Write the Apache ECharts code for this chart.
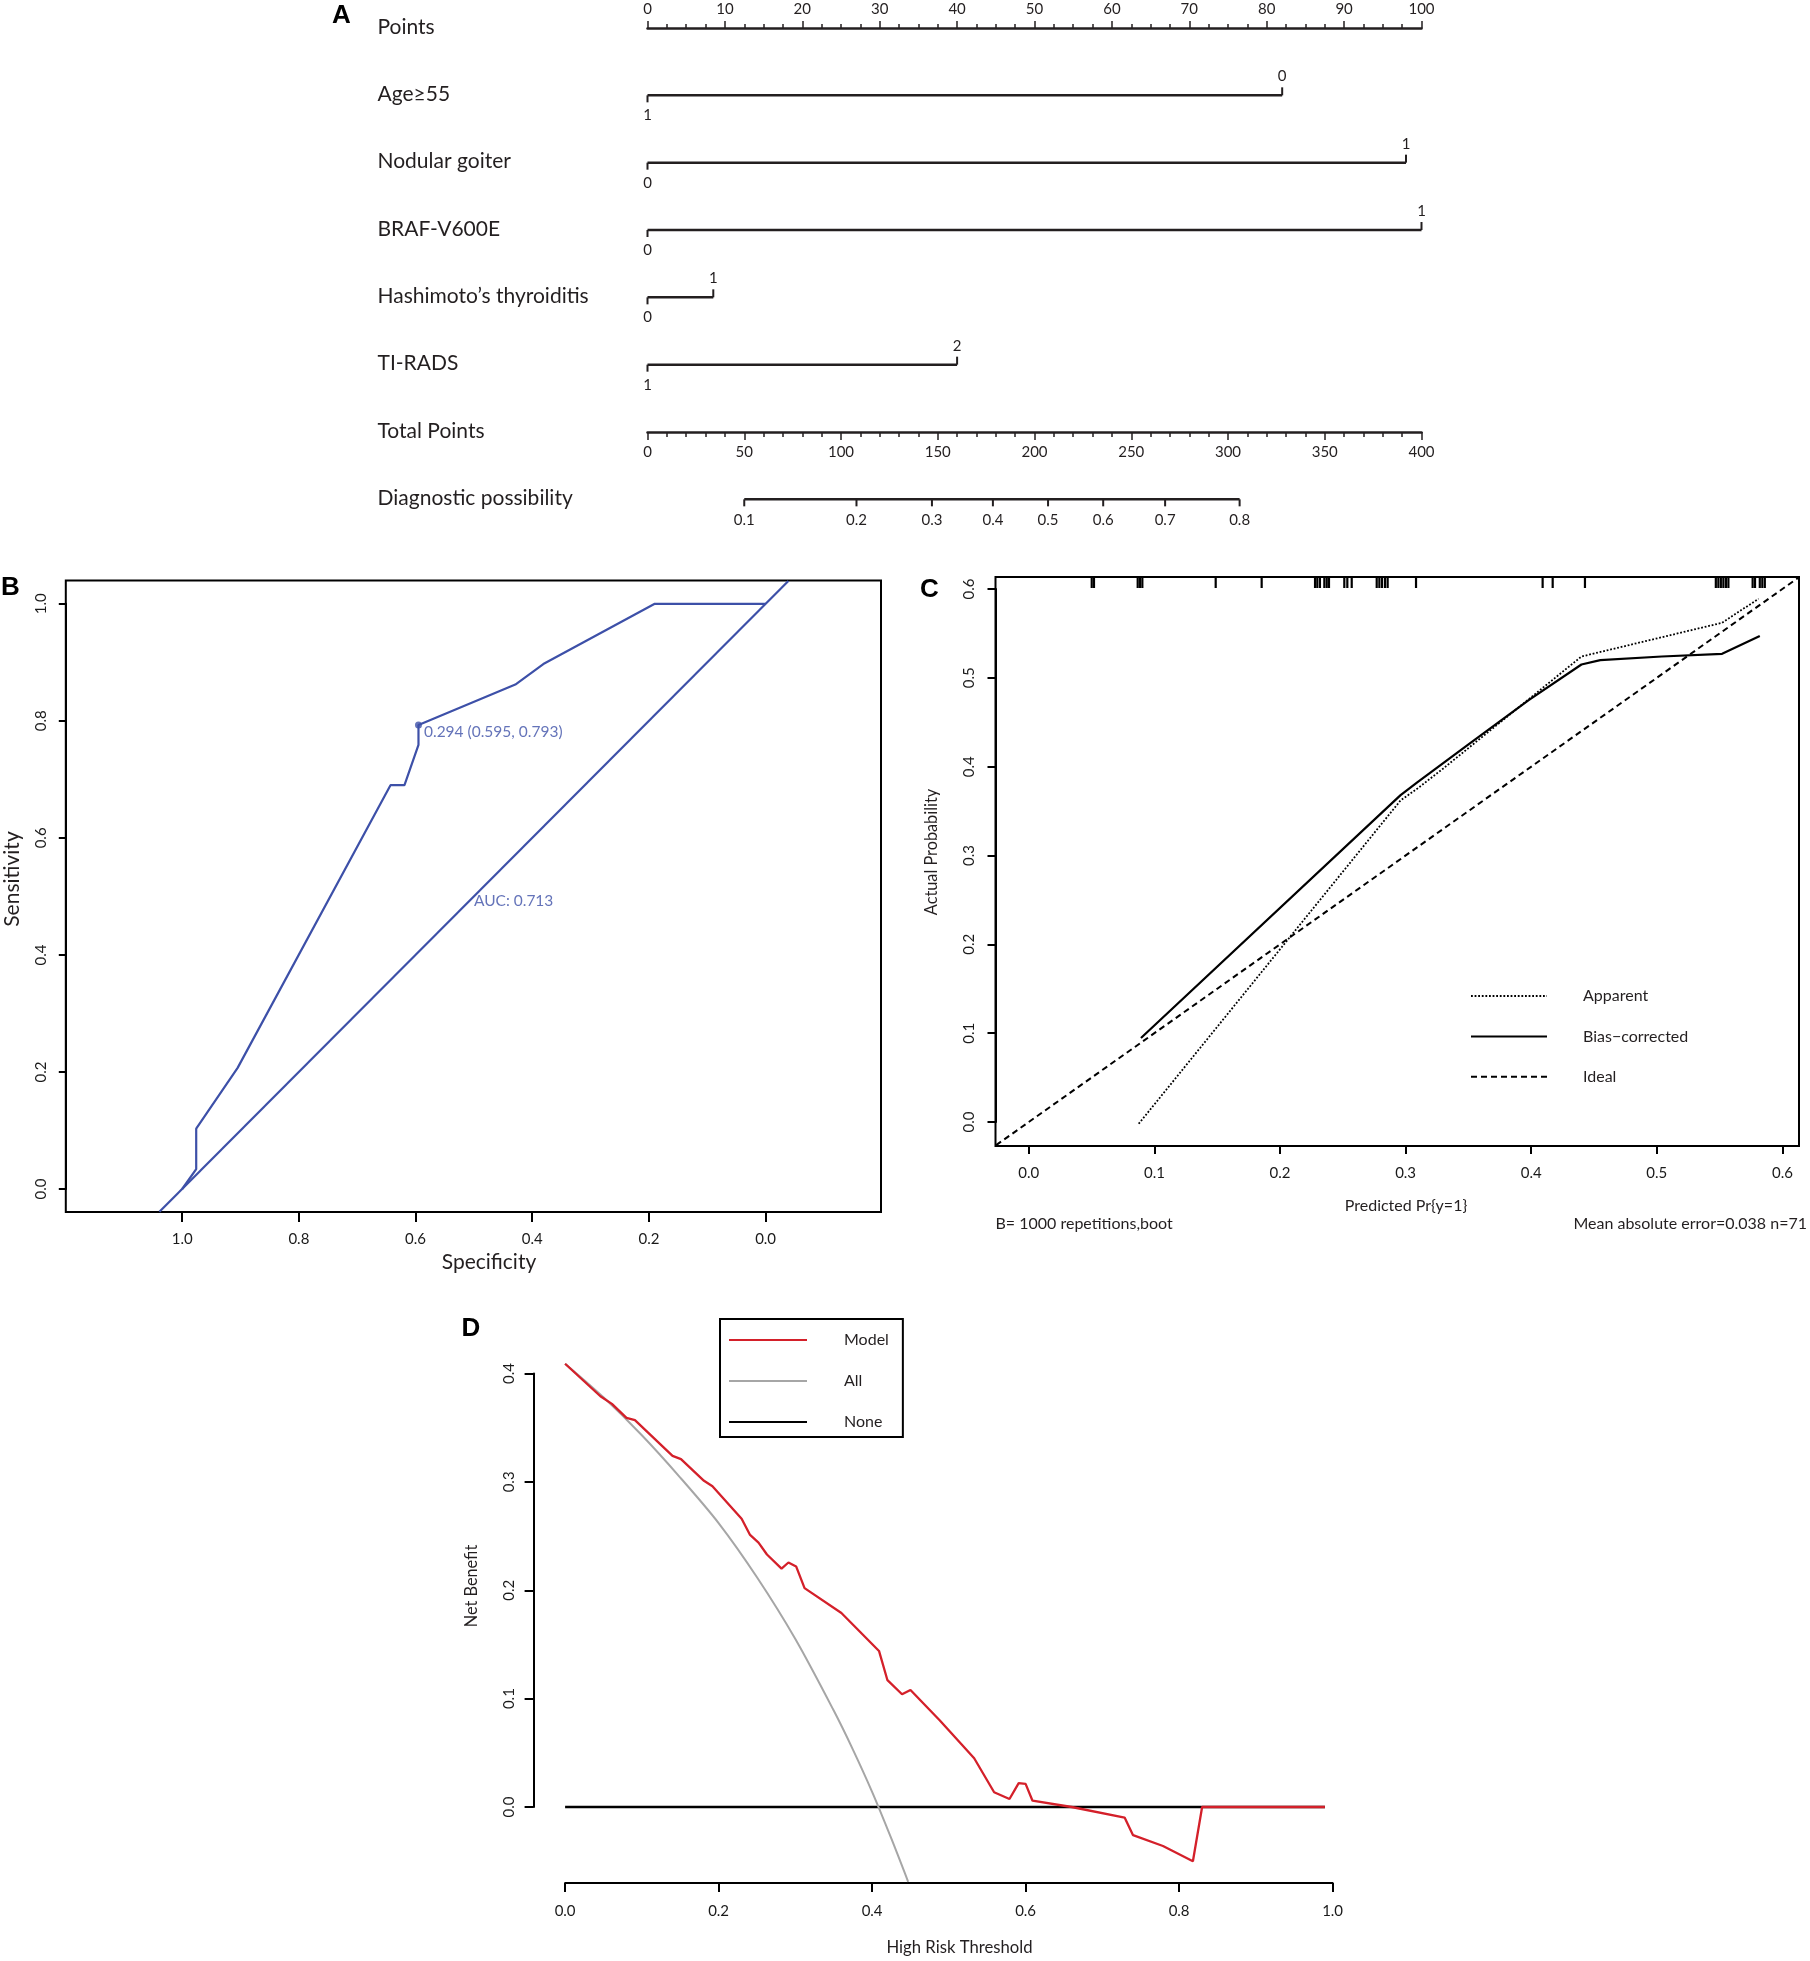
<!DOCTYPE html>
<html>
<head>
<meta charset="utf-8">
<script src="https://cdn.jsdelivr.net/npm/echarts@6/dist/echarts.min.js"></script>
<style>
html,body{margin:0;padding:0;background:#fff;}
#c{width:1810px;height:1961px;}
</style>
</head>
<body>
<div id="c"></div>
<script>
// ================= DATA =================
// Panel A – nomogram
const nomoRowNames = ['Points', 'Age\u226555', 'Nodular goiter', 'BRAF-V600E', 'Hashimoto\u2019s thyroiditis', 'TI-RADS', 'Total Points', 'Diagnostic possibility'];
const predictorMaxPoints = [82, 98, 100, 8.5, 40];
const predictorLowLabels = ['1', '0', '0', '0', '1'];
const predictorHighLabels = ['0', '1', '1', '1', '2'];
const diagTotalPoints = [50, 108, 147, 178.5, 207, 235.5, 267.5, 306];
const diagLabels = ['0.1', '0.2', '0.3', '0.4', '0.5', '0.6', '0.7', '0.8'];

// Panel B – ROC
const rocSpecificity = [1.0, 0.976, 0.976, 0.905, 0.643, 0.619, 0.595, 0.595, 0.429, 0.381, 0.190, 0.0];
const rocSensitivity = [0.0, 0.034, 0.103, 0.207, 0.690, 0.690, 0.759, 0.793, 0.862, 0.897, 1.0, 1.0];
const chanceSpecificity = [1.039, -0.039];
const chanceSensitivity = [-0.039, 1.039];
const bestPoint = [0.595, 0.793];
const bestPointLabel = '0.294 (0.595, 0.793)';
const aucPoint = [0.5, 0.492];
const aucLabel = 'AUC: 0.713';

// Panel C – calibration
const apparentX = [0.0875, 0.296, 0.31, 0.33, 0.44, 0.552, 0.581];
const apparentY = [-0.002, 0.362, 0.376, 0.398, 0.524, 0.562, 0.589];
const biasX = [0.0893, 0.296, 0.309, 0.349, 0.398, 0.44, 0.455, 0.504, 0.552, 0.582];
const biasY = [0.0946, 0.368, 0.382, 0.424, 0.475, 0.515, 0.52, 0.524, 0.527, 0.547];
const idealX = [-0.026, 0.613];
const idealY = [-0.026, 0.613];
const rugX = [0.0501, 0.0519, 0.0867, 0.0885, 0.0904, 0.1488, 0.1854,
  0.2279, 0.2297, 0.2318, 0.2353, 0.2372, 0.239, 0.2512, 0.2536, 0.2571,
  0.277, 0.2791, 0.2812, 0.2836, 0.2857, 0.3083, 0.4091, 0.4171, 0.4428,
  0.547, 0.549, 0.551, 0.553, 0.555, 0.557, 0.5763, 0.5782, 0.582, 0.584, 0.586];
const calibFootLeft = 'B= 1000 repetitions,boot';
const calibFootRight = 'Mean absolute error=0.038 n=71';

// Panel D – decision curve
const modelX = [0, 0.046, 0.061, 0.08, 0.091, 0.14, 0.151, 0.181, 0.192, 0.23, 0.241, 0.252, 0.263, 0.282, 0.291, 0.301, 0.312, 0.36, 0.409, 0.42, 0.439, 0.45, 0.488, 0.533, 0.559, 0.579, 0.591, 0.60, 0.609, 0.66, 0.729, 0.74, 0.779, 0.818, 0.83, 0.99];
const modelY = [0.409, 0.379, 0.372, 0.359, 0.357, 0.324, 0.321, 0.301, 0.296, 0.266, 0.251, 0.244, 0.233, 0.22, 0.2256, 0.222, 0.202, 0.179, 0.144, 0.117, 0.104, 0.108, 0.080, 0.045, 0.0136, 0.0074, 0.022, 0.0213, 0.0058, 0, -0.0097, -0.026, -0.036, -0.050, 0, 0];
const allX = [0, 0.05, 0.1, 0.15, 0.2, 0.25, 0.3, 0.35, 0.375, 0.4, 0.425, 0.447];
const allY = [0.409, 0.378, 0.343, 0.304, 0.262, 0.212, 0.155, 0.089, 0.053, 0.014, -0.029, -0.069];
const noneX = [0, 0.99];
const noneY = [0, 0];

// ================= STYLE / LAYOUT =================
const FONT = 'Lato, "Open Sans", "DejaVu Sans", sans-serif';
const BOLD = '"Liberation Sans", Arial, sans-serif';
const INK = '#231f20';
const BLUE = '#3d50a8';
const RED = '#d4202a';
const GREY = '#a6a6a6';
const zip = (a, b) => a.map((v, i) => [v, b[i]]);
const f1 = v => v.toFixed(1);

function lineEl(x1, y1, x2, y2, w) {
  return {type: 'line', shape: {x1, y1, x2, y2}, style: {stroke: INK, lineWidth: w}};
}
function textEl(text, x, y, size, align) {
  return {type: 'text', style: {text, x, y, fontSize: size, fontFamily: FONT, fill: INK, align: align || 'center', verticalAlign: 'middle'}};
}

function renderRowNames(params, api) {
  const p = api.coord([0, api.value(1)]);
  return textEl(nomoRowNames[params.dataIndex], p[0] - 270, p[1] - 1, 21, 'left');
}
function renderPredictor(params, api) {
  const i = params.dataIndex;
  const p0 = api.coord([api.value(0), api.value(2)]);
  const p1 = api.coord([api.value(1), api.value(2)]);
  return {type: 'group', children: [
    lineEl(p0[0], p0[1], p1[0], p1[1], 2.5),
    lineEl(p0[0], p0[1], p0[0], p0[1] + 7, 2),
    lineEl(p1[0], p1[1], p1[0], p1[1] - 8, 2),
    textEl(predictorLowLabels[i], p0[0], p0[1] + 20, 15),
    textEl(predictorHighLabels[i], p1[0], p1[1] - 19, 15)
  ]};
}
function renderDiag(params, api) {
  const i = params.dataIndex;
  const row = api.value(1);
  const p = api.coord([api.value(0), row]);
  const children = [
    lineEl(p[0], p[1], p[0], p[1] + 7, 2),
    textEl(diagLabels[i], p[0], p[1] + 21, 15)
  ];
  if (i === 0) {
    const pe = api.coord([diagTotalPoints[diagTotalPoints.length - 1], row]);
    children.push(lineEl(p[0], p[1], pe[0], pe[1], 2.5));
  }
  return {type: 'group', children};
}
function renderRug(params, api) {
  const p = api.coord([api.value(0), 0.6]);
  return {type: 'line', shape: {x1: p[0], y1: p[1] - 1, x2: p[0], y2: p[1] - 12}, style: {stroke: '#000', lineWidth: 2.2}};
}

const diagRow = nomoRowNames.length - 1;

const noSplit = {splitLine: {show: false}, minorSplitLine: {show: false}};
function dataAxisX(grid, min, max, interval, offset, tickLen, margin, extra) {
  return Object.assign({
    gridIndex: grid, type: 'value', min, max, interval, offset,
    axisLine: {show: true, onZero: false, lineStyle: {color: '#000', width: 2}},
    axisTick: {show: true, length: tickLen, lineStyle: {color: '#000', width: 2}},
    axisLabel: {margin, fontSize: 15, color: '#1a1a1a', fontFamily: FONT, formatter: f1, showMinLabel: true, showMaxLabel: true}
  }, noSplit, extra || {});
}
function dataAxisY(grid, min, max, interval, offset, tickLen, margin) {
  return Object.assign({
    gridIndex: grid, type: 'value', min, max, interval, offset,
    axisLine: {show: true, onZero: false, lineStyle: {color: '#000', width: 2}},
    axisTick: {show: true, length: tickLen, lineStyle: {color: '#000', width: 2}},
    axisLabel: {margin, rotate: 90, fontSize: 15, color: '#1a1a1a', fontFamily: FONT, formatter: f1, showMinLabel: true, showMaxLabel: true}
  }, noSplit);
}
// hidden axes spanning the full framed box of panels B and C
const boxAxis = (g, min, max, inverse) => Object.assign({gridIndex: g, type: 'value', show: false, min, max, inverse: !!inverse}, noSplit);

const legendHideSymbol = {color: 'rgba(0,0,0,0)', borderWidth: 0, opacity: 0};

const option = {
  animation: false,
  backgroundColor: '#fff',
  grid: [
    {left: 647.5, top: 28, width: 774, height: 404, outerBoundsMode: 'none'},            // A
    {left: 182.2, top: 603.8, width: 583.4, height: 585.2, outerBoundsMode: 'none'},     // B data
    {left: 1028.8, top: 589, width: 753.6, height: 533, outerBoundsMode: 'none'},        // C data
    {left: 565.1, top: 1373.5, width: 767.5, height: 433.5, outerBoundsMode: 'none'},    // D data
    {left: 65.8, top: 580.5, width: 815.2, height: 631.5, show: true, borderColor: '#000', borderWidth: 2, backgroundColor: 'transparent', outerBoundsMode: 'none'}, // B box
    {left: 995.5, top: 577, width: 803.5, height: 569, show: true, borderColor: '#000', borderWidth: 2, backgroundColor: 'transparent', outerBoundsMode: 'none'}   // C box
  ],
  xAxis: [
    Object.assign({
      gridIndex: 0, type: 'value', position: 'top', min: 0, max: 100, interval: 10,
      axisLine: {show: true, onZero: false, lineStyle: {color: INK, width: 2.5}},
      axisTick: {show: true, length: 7, lineStyle: {color: INK, width: 1.5}},
      minorTick: {show: true, splitNumber: 4, length: 4, lineStyle: {color: INK, width: 1.5}},
      axisLabel: {margin: 11, fontSize: 15, color: INK, fontFamily: FONT, showMinLabel: true, showMaxLabel: true}
    }, noSplit),
    Object.assign({
      gridIndex: 0, type: 'value', position: 'bottom', min: 0, max: 400, interval: 50,
      axisLine: {show: true, onZero: false, lineStyle: {color: INK, width: 2.5}},
      axisTick: {show: true, length: 8, lineStyle: {color: INK, width: 1.5}},
      minorTick: {show: true, splitNumber: 5, length: 5, lineStyle: {color: INK, width: 1.5}},
      axisLabel: {margin: 13, fontSize: 15, color: INK, fontFamily: FONT, showMinLabel: true, showMaxLabel: true}
    }, noSplit),
    dataAxisX(1, 0, 1, 0.2, 23, 10, 20, {inverse: true}),
    dataAxisX(2, 0, 0.6, 0.1, 24, 8, 19.5),
    dataAxisX(3, 0, 1, 0.2, 76, 9, 21),
    boxAxis(4, -0.1978, 1.1995, true),
    boxAxis(5, -0.0265, 0.6132)
  ],
  yAxis: [
    Object.assign({gridIndex: 0, type: 'value', show: false, min: 0, max: 6, inverse: true}, noSplit),
    dataAxisY(1, 0, 1, 0.2, 116.4, 7, 17),
    dataAxisY(2, 0, 0.6, 0.1, 33.3, 8, 19),
    dataAxisY(3, 0, 0.4, 0.1, 31.5, 9, 17),
    boxAxis(4, -0.0393, 1.0398),
    boxAxis(5, -0.027, 0.6135)
  ],
  legend: [
    {
      data: ['Apparent', 'Bias\u2212corrected', 'Ideal'],
      orient: 'vertical', left: 1470, top: 988, padding: 0,
      itemWidth: 76, itemHeight: 14, itemGap: 24.4, selectedMode: false,
      itemStyle: legendHideSymbol,
      textStyle: {fontSize: 16, fontFamily: FONT, color: INK, padding: [0, 0, 0, 31]}
    },
    {
      data: ['Model', 'All', 'None'],
      orient: 'vertical', left: 720, top: 1319, padding: [13, 14, 7, 8],
      borderColor: '#000', borderWidth: 2,
      itemWidth: 78, itemHeight: 14, itemGap: 25, selectedMode: false,
      itemStyle: legendHideSymbol,
      textStyle: {fontSize: 16, fontFamily: FONT, color: INK, padding: [0, 0, 0, 32]}
    }
  ],
  series: [
    // ---- A ----
    {type: 'custom', name: 'rowNames', xAxisIndex: 0, yAxisIndex: 0, renderItem: renderRowNames,
      data: nomoRowNames.map((n, i) => [0, i]), silent: true},
    {type: 'custom', name: 'predictors', xAxisIndex: 0, yAxisIndex: 0, renderItem: renderPredictor,
      data: predictorMaxPoints.map((v, i) => [0, v, i + 1]), silent: true},
    {type: 'custom', name: 'diagnostic', xAxisIndex: 1, yAxisIndex: 0, renderItem: renderDiag,
      data: diagTotalPoints.map(v => [v, diagRow]), silent: true},
    // ---- B ----
    {type: 'line', name: 'chance', xAxisIndex: 5, yAxisIndex: 4, data: zip(chanceSpecificity, chanceSensitivity),
      symbol: 'none', clip: false, lineStyle: {color: BLUE, width: 2.2}, silent: true},
    {type: 'line', name: 'ROC', xAxisIndex: 2, yAxisIndex: 1, data: zip(rocSpecificity, rocSensitivity),
      symbol: 'none', clip: false, lineStyle: {color: BLUE, width: 2.2}, silent: true},
    {type: 'scatter', name: 'best', xAxisIndex: 2, yAxisIndex: 1, data: [bestPoint], symbolSize: 7,
      itemStyle: {color: BLUE}, clip: false, silent: true,
      label: {show: true, position: 'right', distance: 2, offset: [0, 7], formatter: bestPointLabel,
        fontSize: 15.5, fontFamily: FONT, color: BLUE}},
    {type: 'scatter', name: 'auc', xAxisIndex: 2, yAxisIndex: 1, data: [aucPoint], symbolSize: 0,
      clip: false, silent: true,
      label: {show: true, position: 'right', distance: 0, formatter: aucLabel, fontSize: 15.5, fontFamily: FONT, color: BLUE}},
    // ---- C ----
    {type: 'line', name: 'Ideal', xAxisIndex: 6, yAxisIndex: 5, data: zip(idealX, idealY), symbol: 'none', clip: false,
      lineStyle: {color: '#000', width: 2, type: [6, 4]}, itemStyle: {color: '#000'}, silent: true},
    {type: 'line', name: 'Apparent', xAxisIndex: 3, yAxisIndex: 2, data: zip(apparentX, apparentY), symbol: 'none', clip: false,
      lineStyle: {color: '#000', width: 1.8, type: [1.8, 1.8]}, itemStyle: {color: '#000'}, silent: true},
    {type: 'line', name: 'Bias\u2212corrected', xAxisIndex: 3, yAxisIndex: 2, data: zip(biasX, biasY), symbol: 'none', clip: false,
      lineStyle: {color: '#000', width: 2.2}, itemStyle: {color: '#000'}, silent: true},
    {type: 'custom', name: 'rug', xAxisIndex: 3, yAxisIndex: 2, renderItem: renderRug,
      data: rugX.map(v => [v]), silent: true},
    // ---- D ----
    {type: 'line', name: 'None', xAxisIndex: 4, yAxisIndex: 3, data: zip(noneX, noneY), symbol: 'none', clip: false,
      lineStyle: {color: '#000', width: 2.5}, itemStyle: {color: '#000'}, silent: true},
    {type: 'line', name: 'All', xAxisIndex: 4, yAxisIndex: 3, data: zip(allX, allY), symbol: 'none', clip: false, smooth: 0.3,
      lineStyle: {color: GREY, width: 2}, itemStyle: {color: GREY}, silent: true},
    {type: 'line', name: 'Model', xAxisIndex: 4, yAxisIndex: 3, data: zip(modelX, modelY), symbol: 'none', clip: false,
      lineStyle: {color: RED, width: 2.3}, itemStyle: {color: RED}, silent: true}
  ],
  graphic: {elements: [
    {type: 'text', x: 341.5, y: 15.5, style: {text: 'A', fontSize: 26, fontWeight: 'bold', fontFamily: BOLD, fill: '#000', align: 'center', verticalAlign: 'middle'}},
    {type: 'text', x: 10.5, y: 588, style: {text: 'B', fontSize: 26, fontWeight: 'bold', fontFamily: BOLD, fill: '#000', align: 'center', verticalAlign: 'middle'}},
    {type: 'text', x: 929.5, y: 590, style: {text: 'C', fontSize: 26, fontWeight: 'bold', fontFamily: BOLD, fill: '#000', align: 'center', verticalAlign: 'middle'}},
    {type: 'text', x: 471, y: 1329, style: {text: 'D', fontSize: 26, fontWeight: 'bold', fontFamily: BOLD, fill: '#000', align: 'center', verticalAlign: 'middle'}},
    {type: 'text', x: 489, y: 1262, style: {text: 'Specificity', fontSize: 21, fontFamily: FONT, fill: INK, align: 'center', verticalAlign: 'middle'}},
    {type: 'text', x: 12.5, y: 879, rotation: Math.PI / 2, style: {text: 'Sensitivity', fontSize: 21, fontFamily: FONT, fill: INK, align: 'center', verticalAlign: 'middle'}},
    {type: 'text', x: 932, y: 852, rotation: Math.PI / 2, style: {text: 'Actual Probability', fontSize: 16.3, fontFamily: FONT, fill: INK, align: 'center', verticalAlign: 'middle'}},
    {type: 'text', x: 1406, y: 1206, style: {text: 'Predicted Pr{y=1}', fontSize: 16, fontFamily: FONT, fill: INK, align: 'center', verticalAlign: 'middle'}},
    {type: 'text', x: 995.5, y: 1224, style: {text: calibFootLeft, fontSize: 16, fontFamily: FONT, fill: INK, align: 'left', verticalAlign: 'middle'}},
    {type: 'text', x: 1807, y: 1224, style: {text: calibFootRight, fontSize: 16, fontFamily: FONT, fill: INK, align: 'right', verticalAlign: 'middle'}},
    {type: 'text', x: 471.6, y: 1586, rotation: Math.PI / 2, style: {text: 'Net Benefit', fontSize: 16.3, fontFamily: FONT, fill: INK, align: 'center', verticalAlign: 'middle'}},
    {type: 'text', x: 959.5, y: 1948, style: {text: 'High Risk Threshold', fontSize: 16.7, fontFamily: FONT, fill: INK, align: 'center', verticalAlign: 'middle'}}
  ]}
};

const chart = echarts.init(document.getElementById('c'), null, {renderer: 'canvas', width: 1810, height: 1961});
chart.setOption(option);
</script>
</body>
</html>
